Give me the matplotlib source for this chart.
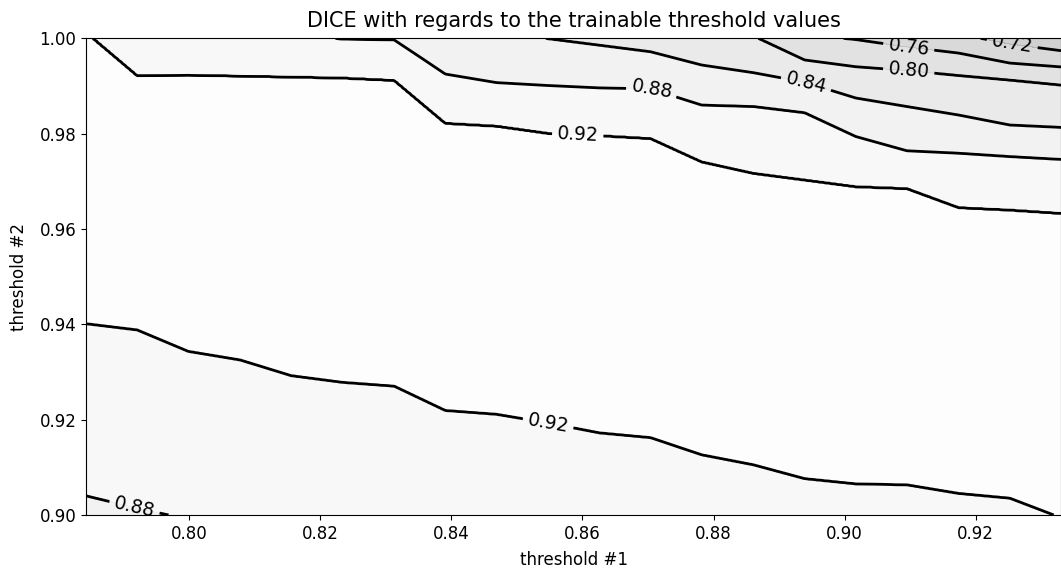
import numpy as np
import matplotlib
matplotlib.use("Agg")
import matplotlib.pyplot as plt

# threshold #1 grid (columns)
thr1 = [0.7843, 0.7921, 0.7999, 0.8078, 0.8156, 0.8234, 0.8313, 0.8391, 0.8469, 0.8547,
        0.8626, 0.8704, 0.8782, 0.8861, 0.8939, 0.9017, 0.9095, 0.9174, 0.9252, 0.9330]

# threshold #2 value where DICE crosses each level, per column
low_088 = [0.9040, 0.9014, 0.8991, 0.8970, 0.8950, 0.8930, 0.8910, 0.8890, 0.8870, 0.8850,
           0.8830, 0.8810, 0.8790, 0.8770, 0.8750, 0.8730, 0.8710, 0.8690, 0.8670, 0.8650]
low_092 = [0.9401, 0.9388, 0.9343, 0.9325, 0.9292, 0.9278, 0.9270, 0.9219, 0.9211, 0.9193,
           0.9172, 0.9162, 0.9126, 0.9105, 0.9076, 0.9065, 0.9063, 0.9045, 0.9035, 0.8994]
up_092 = [1.0013, 0.9922, 0.9923, 0.9921, 0.9919, 0.9917, 0.9912, 0.9822, 0.9816, 0.9801,
          0.9796, 0.9790, 0.9741, 0.9717, 0.9703, 0.9689, 0.9685, 0.9645, 0.9640, 0.9633]
up_088 = [1.0030, 1.0030, 1.0030, 1.0020, 1.0010, 0.99985, 0.9997, 0.9925, 0.9907, 0.9901,
          0.9896, 0.9894, 0.9860, 0.9857, 0.9844, 0.9794, 0.9764, 0.9759, 0.9752, 0.9746]
up_084 = [1.0060, 1.0060, 1.0060, 1.0050, 1.0040, 1.0030, 1.0025, 1.0020, 1.0012, 0.99996,
          0.99857, 0.99719, 0.9944, 0.99278, 0.9908, 0.98748, 0.98569, 0.9839, 0.9818, 0.9813]
up_080 = [1.0090, 1.0090, 1.0090, 1.0080, 1.0070, 1.0060, 1.0050, 1.0050, 1.0040, 1.0030,
          1.0030, 1.0020, 1.0015, 1.0005, 0.99545, 0.99404, 0.99325, 0.9922, 0.99125, 0.9902]
up_076 = [1.0120, 1.0120, 1.0120, 1.0110, 1.0100, 1.0090, 1.0080, 1.0080, 1.0070, 1.0060,
          1.0060, 1.0050, 1.0040, 1.0030, 1.0008, 0.99975, 0.9982, 0.9969, 0.9948, 0.9940]
up_072 = [1.0150, 1.0150, 1.0150, 1.0140, 1.0130, 1.0120, 1.0110, 1.0110, 1.0100, 1.0090,
          1.0090, 1.0080, 1.0070, 1.0060, 1.0040, 1.0030, 1.0020, 1.0009, 0.9988, 0.9974]
peak_dice = 0.935

line_levels = [0.72, 0.76, 0.80, 0.84, 0.88, 0.92]
fill_levels = [0.68, 0.72, 0.76, 0.80, 0.84, 0.88, 0.92, 0.96]

# rebuild the DICE surface from the level crossings (fine grid so the
# contour lines come out as the straight segments of the original)
xs = np.linspace(thr1[0], thr1[-1], 800)
thr2 = np.linspace(0.90, 1.00, 600)
curves = [low_088, low_092, None, up_092, up_088, up_084, up_080, up_076, up_072]
h = {}
for i, c in enumerate(curves):
    if c is not None:
        h[i] = np.interp(xs, thr1, c)
dice = np.zeros((len(thr2), len(xs)))
for k in range(len(xs)):
    ys = [h[0][k] - 0.02, h[0][k], h[1][k], (h[1][k] + h[3][k]) / 2, h[3][k], h[4][k],
          h[5][k], h[6][k], h[7][k], h[8][k], h[8][k] + 0.004]
    zs = [0.84, 0.88, 0.92, peak_dice, 0.92, 0.88, 0.84, 0.80, 0.76, 0.72, 0.68]
    dice[:, k] = np.interp(thr2, ys, zs)

plt.rcParams['font.size'] = 12
fig = plt.figure(figsize=(10.61, 5.70), dpi=100)
ax = fig.add_axes([0.0811, 0.0965, 0.9189, 0.8363])

X, Y = np.meshgrid(xs, thr2)
ax.contourf(X, Y, dice, levels=fill_levels, cmap='Greys_r', alpha=0.2)
cs = ax.contour(X, Y, dice, levels=line_levels, colors='k', linewidths=2)
label_spots = [(0.7918, 0.9021), (0.8547, 0.9185), (0.8593, 0.9801), (0.8706, 0.9894),
               (0.8941, 0.9904), (0.9098, 0.9936), (0.9098, 0.9984), (0.9255, 0.9982)]
ax.clabel(cs, inline=True, fontsize=13.5, fmt='%.2f', manual=label_spots)

ax.set_xlim(thr1[0], thr1[-1])
ax.set_ylim(0.90, 1.00)
ax.set_xticks([0.80, 0.82, 0.84, 0.86, 0.88, 0.90, 0.92])
ax.set_yticks([0.90, 0.92, 0.94, 0.96, 0.98, 1.00])
ax.set_xlabel('threshold #1', labelpad=6)
ax.set_ylabel('threshold #2', labelpad=8)
ax.set_title('DICE with regards to the trainable threshold values', fontsize=15, pad=8)

fig.savefig('out.png', dpi=100)
